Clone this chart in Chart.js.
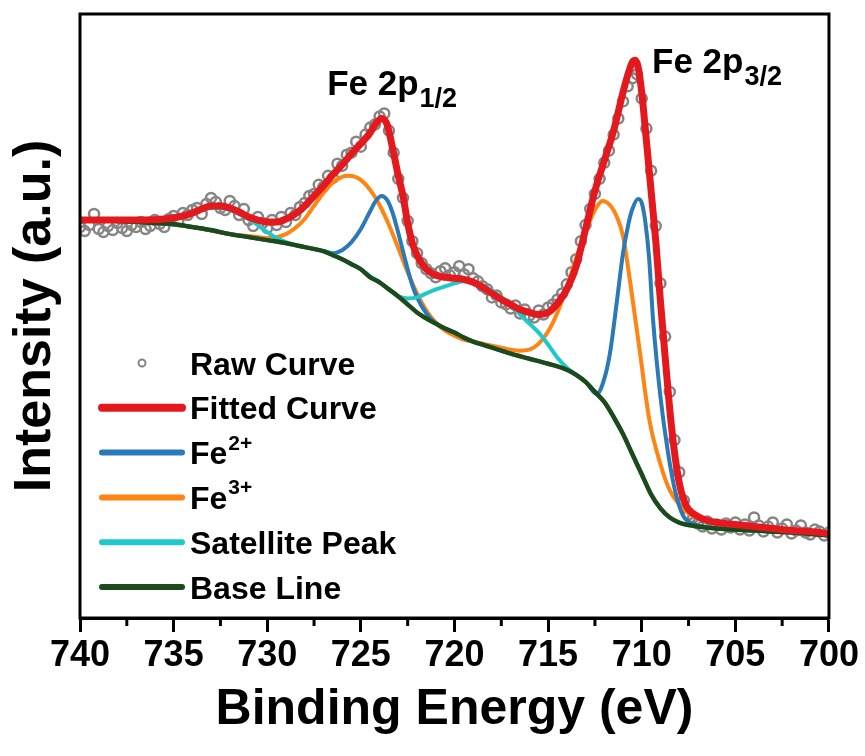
<!DOCTYPE html>
<html>
<head>
<meta charset="utf-8">
<script src="https://cdn.jsdelivr.net/npm/chart.js@4.4.1/dist/chart.umd.min.js"></script>
<style>
  html, body { margin: 0; padding: 0; background: #fff; }
  #wrap { width: 865px; height: 756px; position: relative; }
</style>
</head>
<body>
<div id="wrap"><canvas id="xps"></canvas></div>
<script>
// Fe 2p XPS spectrum (intensity in a.u.)
const rawEnergy = [
  740, 739.75, 739.5, 739.25, 739, 738.75, 738.5, 738.25, 738, 737.75,
  737.5, 737.25, 737, 736.75, 736.5, 736.25, 736, 735.75, 735.5, 735.25,
  735, 734.75, 734.5, 734.25, 734, 733.75, 733.5, 733.25, 733, 732.75,
  732.5, 732.25, 732, 731.75, 731.5, 731.25, 731, 730.75, 730.5, 730.25,
  730, 729.75, 729.5, 729.25, 729, 728.75, 728.5, 728.25, 728, 727.75,
  727.5, 727.25, 727, 726.75, 726.5, 726.25, 726, 725.75, 725.5, 725.25,
  725, 724.75, 724.5, 724.25, 724, 723.75, 723.5, 723.25, 723, 722.75,
  722.5, 722.25, 722, 721.75, 721.5, 721.25, 721, 720.75, 720.5, 720.25,
  720, 719.75, 719.5, 719.25, 719, 718.75, 718.5, 718.25, 718, 717.75,
  717.5, 717.25, 717, 716.75, 716.5, 716.25, 716, 715.75, 715.5, 715.25,
  715, 714.75, 714.5, 714.25, 714, 713.75, 713.5, 713.25, 713, 712.75,
  712.5, 712.25, 712, 711.75, 711.5, 711.25, 711, 710.75, 710.5, 710.25,
  710, 709.75, 709.5, 709.25, 709, 708.75, 708.5, 708.25, 708, 707.75,
  707.5, 707.25, 707, 706.75, 706.5, 706.25, 706, 705.75, 705.5, 705.25,
  705, 704.75, 704.5, 704.25, 704, 703.75, 703.5, 703.25, 703, 702.75,
  702.5, 702.25, 702, 701.75, 701.5, 701.25, 701, 700.75, 700.5, 700.25,
  700
];
const rawIntensity = [
  389, 385, 391, 402, 387, 384, 390, 386, 393, 388,
  385, 391, 389, 394, 387, 390, 396, 392, 389, 397,
  400, 395, 403, 401, 406, 408, 402, 412, 418, 414,
  408, 406, 415, 410, 401, 407, 396, 390, 399, 393,
  388, 396, 391, 399, 394, 403, 401, 409, 413, 420,
  422, 431, 429, 440, 438, 452, 450, 461, 463, 474,
  469, 481, 488, 491, 499, 502, 485, 463, 437, 418,
  395, 375, 363, 353, 347, 343, 339, 345, 348, 341,
  344, 350, 342, 347, 338, 335, 330, 327, 319, 321,
  314, 312, 308, 311, 303, 307, 301, 299, 306, 302,
  309, 312, 317, 323, 332, 344, 357, 375, 391, 407,
  422, 437, 453, 465, 481, 497, 514, 529, 537, 541,
  517, 487, 445, 390, 333, 280, 225, 177, 145, 117,
  103, 100, 94, 91, 96, 89, 93, 88, 94, 90,
  95, 88, 93, 87, 100, 92, 86, 91, 95, 85,
  89, 93, 84, 87, 92, 85, 83, 88, 86, 82,
  85
];

const fitEnergy = [740, 737, 735.5, 734.5, 734, 733.5, 733, 732.5, 732, 731.5,
  731, 730.5, 730, 729.5, 729, 728.5, 728, 727.5, 727, 726.5,
  726, 725.5, 725, 724.5, 724.2, 723.9, 723.6, 723.3, 723, 722.75,
  722.5, 722.25, 722, 721.75, 721.5, 721, 720.5, 720, 719.5, 719,
  718.5, 718, 717.5, 717, 716.5, 716, 715.5, 715, 714.5, 714,
  713.5, 713, 712.5, 712, 711.5, 711, 710.75, 710.5, 710.35, 710.2,
  710, 709.75, 709.5, 709.25, 709, 708.75, 708.5, 708.25, 708, 707.75,
  707.5, 707, 706.5, 706, 705, 704, 703, 702, 701, 700];
const fitIntensity = [396, 396, 397, 400, 403, 407, 410, 410, 408, 404,
  399, 396, 394, 394, 397, 402, 410, 420, 430, 441,
  451, 462, 472, 483, 492, 497, 491, 467, 440, 420,
  393, 373, 361, 353, 347, 341, 339, 338, 337, 334,
  329, 323, 317, 312, 307, 304, 302, 304, 313, 327,
  350, 387, 425, 455, 485, 523, 540, 553, 555, 549,
  523, 475, 425, 375, 315, 260, 207, 165, 135, 117,
  108, 101, 97, 95, 93, 91, 89, 87, 86, 84];

const fe2Energy = [740, 736, 734, 732, 730, 728, 727, 726.5, 726, 725.5,
  725, 724.5, 724.2, 723.9, 723.6, 723.3, 723, 722.75, 722.5, 722.25,
  722, 721.5, 721, 720, 719, 718, 717, 716, 715, 714,
  713, 712.4, 712, 711.7, 711.3, 711, 710.7, 710.5, 710.2, 710,
  709.8, 709.6, 709.4, 709, 708.6, 708.2, 707.8, 707.5, 707, 706,
  704, 702, 700];
const fe2Intensity = [396, 393, 389, 382, 376, 369, 365, 363, 366, 374,
  387, 405, 415, 420, 416, 403, 383, 365, 347, 331,
  319, 303, 293, 284, 275, 269, 263, 258, 253, 247,
  235, 223, 238, 263, 319, 363, 393, 407, 417, 413,
  393, 357, 298, 220, 165, 125, 102, 96, 92, 89,
  87, 85, 82];

const fe3Energy = [740, 736, 734, 732, 731, 730.5, 730, 729.5, 729, 728.5,
  728, 727.5, 727, 726.5, 726, 725.7, 725.3, 725, 724.5, 724,
  723.5, 723, 722.5, 722, 721.5, 721, 720.5, 720, 719.5, 719,
  718.5, 718, 717.5, 717, 716.5, 716, 715.5, 715, 714.5, 714,
  713.5, 713, 712.5, 712.1, 711.7, 711.3, 711, 710.6, 710.1, 709.6,
  709, 708.5, 708, 707.5, 707, 706.5, 706, 704, 702, 700];
const fe3Intensity = [396, 393, 389, 382, 380, 379, 378, 379, 382, 388,
  397, 410, 423, 433, 439, 440, 439, 436, 426, 411,
  391, 368, 344, 323, 306, 294, 286, 281, 277, 275,
  273, 271, 269, 267, 266, 267, 273, 285, 304, 329,
  358, 384, 406, 415, 411, 398, 380, 332, 265, 198,
  153, 127, 113, 104, 99, 96, 94, 91, 88, 85];

const satEnergy = [740, 736, 735.5, 735, 734.5, 734, 733.5, 733, 732.5, 732,
  731.5, 731, 730.5, 730, 729.5, 729, 728.5, 728, 727, 726,
  725, 724.5, 724, 723.5, 723, 722.5, 722, 721.5, 721, 720.5,
  720, 719.5, 719, 718.5, 718, 717.5, 717, 716.5, 716, 715.5,
  715, 714.5, 714, 713.5, 713, 712.5, 712, 711.5, 711, 710.5,
  710, 709.5, 709, 708.5, 708, 707, 706, 704, 702, 700];
const satIntensity = [396, 395, 396, 397, 400, 403, 406, 408, 408, 406,
  402, 397, 391, 384, 378, 374, 371, 369, 365, 357,
  347, 340, 334, 327, 320, 318, 319, 323, 327, 330,
  333, 335, 333, 330, 326, 319, 311, 302, 293, 284,
  272, 259, 249, 242, 235, 225, 215, 200, 183, 163,
  143, 123, 109, 100, 95, 91, 89, 87, 85, 82];

const baseEnergy = [740, 738, 736, 735, 734, 733, 732, 731, 730, 729,
  728, 727, 726.5, 726, 725.5, 725, 724.5, 724, 723.5, 723,
  722.5, 722, 721.5, 721, 720.5, 720, 719.5, 719, 718.5, 718,
  717.5, 717, 716, 715, 714, 713.5, 713, 712.5, 712, 711.5,
  711, 710.5, 710, 709.5, 709, 708.5, 708, 707, 706, 704,
  702, 700];
const baseIntensity = [396, 395, 393, 392, 389, 386, 382, 379, 376, 373,
  369, 365, 361, 357, 352, 347, 339, 334, 327, 320,
  312, 304, 298, 293, 288, 284, 279, 275, 272, 269,
  266, 263, 258, 253, 247, 242, 235, 225, 215, 200,
  183, 163, 143, 123, 109, 100, 95, 91, 89, 87,
  85, 82];

const minorTicks = [737.5, 732.5, 727.5, 722.5, 717.5, 712.5, 707.5, 702.5];

// peak labels: [energy, intensity, main text, subscript]
const peakLabels = [
  [726.8, 520, 'Fe 2p', '1/2'],
  [709.45, 542, 'Fe 2p', '3/2']
];

const FONT = "'Liberation Sans', Arial, Helvetica, sans-serif";
const RED = '#e3191d', BLUE = '#2a7ab9', ORANGE = '#ff8412', CYAN = '#1fc9c9', GREEN = '#1c4a1a', GRAY = '#858585';

const legendRows = [
  { text: 'Raw Curve', color: GRAY, raw: true },
  { text: 'Fitted Curve', color: RED, width: 8 },
  { text: 'Fe', sup: '2+', color: BLUE, width: 6 },
  { text: 'Fe', sup: '3+', color: ORANGE, width: 6 },
  { text: 'Satellite Peak', color: CYAN, width: 6 },
  { text: 'Base Line', color: GREEN, width: 6 }
];

function pts(xs, ys) {
  return xs.map((e, i) => ({ x: e, y: ys[i] }));
}

function lineSet(label, xs, ys, color, width, order) {
  return {
    label: label,
    data: pts(xs, ys),
    borderColor: color,
    backgroundColor: color,
    borderWidth: width,
    pointRadius: 0,
    cubicInterpolationMode: 'monotone',
    fill: false,
    order: order
  };
}

const decor = {
  id: 'decor',
  afterDraw(chart) {
    const ctx = chart.ctx;
    const a = chart.chartArea;
    const x = chart.scales.x, y = chart.scales.y;
    ctx.save();

    // minor ticks
    ctx.strokeStyle = '#000';
    ctx.lineWidth = 3;
    minorTicks.forEach(v => {
      const px = x.getPixelForValue(v);
      ctx.beginPath();
      ctx.moveTo(px, a.bottom);
      ctx.lineTo(px, a.bottom + 8);
      ctx.stroke();
    });

    // frame
    ctx.strokeRect(a.left, a.top, a.right - a.left, a.bottom - a.top);

    // y title
    ctx.fillStyle = '#000';
    ctx.save();
    ctx.translate(a.left - 44, (a.top + a.bottom) / 2);
    ctx.rotate(-Math.PI / 2);
    ctx.font = 'bold 52px ' + FONT;
    ctx.textAlign = 'center';
    ctx.textBaseline = 'middle';
    ctx.fillText('Intensity (a.u.)', 0, 0);
    ctx.restore();

    // peak labels
    ctx.textAlign = 'left';
    ctx.textBaseline = 'alphabetic';
    peakLabels.forEach(p => {
      const px = x.getPixelForValue(p[0]);
      const py = y.getPixelForValue(p[1]);
      ctx.font = 'bold 35px ' + FONT;
      ctx.fillText(p[2], px, py);
      const w = ctx.measureText(p[2]).width;
      ctx.font = 'bold 27px ' + FONT;
      ctx.fillText(p[3], px + w + 1, py + 12);
    });

    // legend
    legendRows.forEach((row, i) => {
      const ry = a.top + 349 + i * 44.8;
      const lx = a.left + 22;
      if (row.raw) {
        ctx.strokeStyle = row.color;
        ctx.lineWidth = 2;
        ctx.beginPath();
        ctx.arc(lx + 40, ry, 3.5, 0, Math.PI * 2);
        ctx.stroke();
      } else {
        ctx.strokeStyle = row.color;
        ctx.lineWidth = row.width;
        ctx.lineCap = 'round';
        ctx.beginPath();
        ctx.moveTo(lx, ry);
        ctx.lineTo(lx + 80, ry);
        ctx.stroke();
      }
      ctx.fillStyle = '#000';
      ctx.font = 'bold 32px ' + FONT;
      const tx = a.left + 110;
      ctx.fillText(row.text, tx, ry + 11.5);
      if (row.sup) {
        const w = ctx.measureText(row.text).width;
        ctx.font = 'bold 21px ' + FONT;
        ctx.fillText(row.sup, tx + w + 1, ry - 3);
      }
    });

    ctx.restore();
  }
};

new Chart(document.getElementById('xps'), {
  type: 'line',
  data: {
    datasets: [
      lineSet('Fitted Curve', fitEnergy, fitIntensity, RED, 7, 0),
      lineSet('Base Line', baseEnergy, baseIntensity, GREEN, 4.5, 1),
      lineSet('Satellite Peak', satEnergy, satIntensity, CYAN, 4, 2),
      lineSet('Fe2+', fe2Energy, fe2Intensity, BLUE, 4, 3),
      lineSet('Fe3+', fe3Energy, fe3Intensity, ORANGE, 4, 4),
      {
        label: 'Raw Curve',
        data: pts(rawEnergy, rawIntensity),
        showLine: false,
        pointStyle: 'circle',
        pointRadius: 5,
        pointBorderWidth: 2.5,
        pointBorderColor: GRAY,
        pointBackgroundColor: 'rgba(0,0,0,0)',
        order: 5
      }
    ]
  },
  options: {
    responsive: true,
    maintainAspectRatio: false,
    devicePixelRatio: 1,
    animation: false,
    layout: { padding: { left: 80, right: 36, top: 14, bottom: 12 } },
    plugins: {
      legend: { display: false },
      tooltip: { enabled: false }
    },
    scales: {
      x: {
        type: 'linear',
        min: 700,
        max: 740,
        reverse: true,
        ticks: {
          stepSize: 5,
          autoSkip: false,
          maxRotation: 0,
          padding: 6,
          color: '#000',
          font: { family: FONT, size: 36, weight: 'bold', lineHeight: 1 }
        },
        grid: {
          drawOnChartArea: false,
          tickLength: 14,
          tickWidth: 3,
          tickColor: '#000'
        },
        border: { color: '#000', width: 3 },
        title: {
          display: true,
          text: 'Binding Energy (eV)',
          color: '#000',
          padding: { top: 0, bottom: 4 },
          font: { family: FONT, size: 50, weight: 'bold' }
        }
      },
      y: {
        type: 'linear',
        min: 0,
        max: 601,
        display: false
      }
    }
  },
  plugins: [decor]
});
</script>
</body>
</html>
